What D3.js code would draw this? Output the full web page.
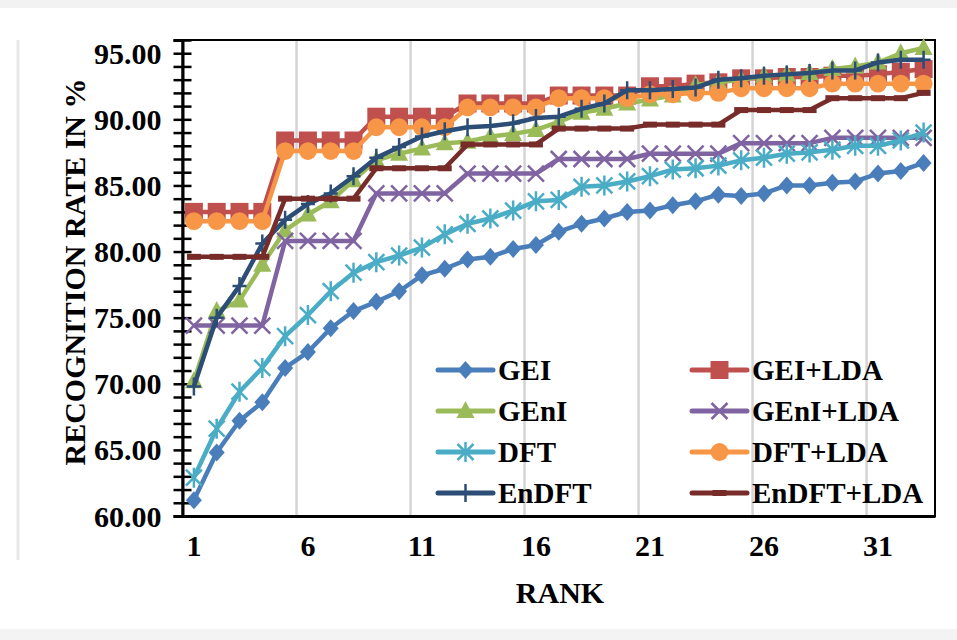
<!DOCTYPE html>
<html>
<head>
<meta charset="utf-8">
<script src="https://cdn.jsdelivr.net/npm/d3@7"></script>
<style>
  html, body { margin: 0; padding: 0; background: #ffffff; }
  svg { display: block; }
  .lbl { font-family: "Liberation Serif", "Times New Roman", serif; font-weight: bold; fill: #000; }
</style>
</head>
<body>
<script>
// DATA
var ranks = [1, 2, 3, 4, 5, 6, 7, 8, 9, 10, 11, 12, 13, 14, 15, 16, 17, 18, 19, 20, 21, 22, 23, 24, 25, 26, 27, 28, 29, 30, 31, 32, 33];
var rankTicks = [1, 6, 11, 16, 21, 26, 31];
var yTicks = [60, 65, 70, 75, 80, 85, 90, 95];

var gei = [61.2, 64.8, 67.2, 68.6, 71.2, 72.4, 74.2, 75.5, 76.2, 77.0, 78.2, 78.7, 79.4, 79.6, 80.2, 80.5, 81.5, 82.1, 82.5, 83.0, 83.1, 83.5, 83.8, 84.3, 84.2, 84.4, 85.0, 85.0, 85.2, 85.3, 85.9, 86.1, 86.7];
var geiLda = [83.0, 83.0, 83.0, 83.0, 88.4, 88.4, 88.4, 88.4, 90.2, 90.2, 90.2, 90.2, 91.2, 91.2, 91.2, 91.2, 91.8, 91.8, 91.8, 91.8, 92.5, 92.5, 92.7, 92.8, 93.1, 93.1, 93.2, 93.2, 93.3, 93.3, 93.4, 93.6, 93.8];
var geni = [70.2, 75.5, 76.3, 79.0, 81.6, 82.8, 83.8, 85.4, 86.9, 87.4, 87.8, 88.2, 88.3, 88.7, 88.9, 89.2, 89.8, 90.5, 90.8, 91.2, 91.5, 91.8, 92.6, 92.8, 93.0, 93.3, 93.4, 93.5, 93.8, 94.0, 94.3, 95.0, 95.4];
var geniLda = [74.4, 74.4, 74.4, 74.4, 80.8, 80.8, 80.8, 80.8, 84.4, 84.4, 84.4, 84.4, 85.9, 85.9, 85.9, 85.9, 87.0, 87.0, 87.0, 87.0, 87.4, 87.4, 87.4, 87.4, 88.2, 88.2, 88.2, 88.2, 88.6, 88.6, 88.6, 88.6, 88.6];
var dft = [62.9, 66.6, 69.4, 71.2, 73.6, 75.2, 77.0, 78.4, 79.2, 79.7, 80.3, 81.3, 82.1, 82.5, 83.1, 83.8, 83.9, 84.9, 85.0, 85.3, 85.7, 86.2, 86.3, 86.5, 86.9, 87.1, 87.4, 87.5, 87.7, 88.0, 88.0, 88.4, 89.0];
var dftLda = [82.3, 82.3, 82.3, 82.3, 87.6, 87.6, 87.6, 87.6, 89.4, 89.4, 89.4, 89.4, 90.9, 90.9, 90.9, 90.9, 91.6, 91.6, 91.6, 91.6, 91.9, 91.9, 92.0, 92.0, 92.35, 92.35, 92.35, 92.35, 92.7, 92.7, 92.7, 92.7, 92.7];
var endft = [69.8, 75.0, 77.4, 80.6, 82.4, 83.6, 84.4, 85.7, 87.1, 87.9, 88.7, 89.1, 89.4, 89.5, 89.7, 90.1, 90.2, 90.8, 91.2, 92.2, 92.2, 92.3, 92.4, 93.0, 93.1, 93.3, 93.4, 93.5, 93.7, 93.7, 94.3, 94.5, 94.5];
var endftLda = [79.6, 79.6, 79.6, 79.6, 84.0, 84.0, 84.0, 84.0, 86.3, 86.3, 86.3, 86.3, 88.1, 88.1, 88.1, 88.1, 89.3, 89.3, 89.3, 89.3, 89.6, 89.6, 89.6, 89.6, 90.7, 90.7, 90.7, 90.7, 91.6, 91.6, 91.6, 91.6, 92.0];

var seriesNames = ["GEI", "GEI+LDA", "GEnI", "GEnI+LDA", "DFT", "DFT+LDA", "EnDFT", "EnDFT+LDA"];
var seriesValues = [gei, geiLda, geni, geniLda, dft, dftLda, endft, endftLda];
var seriesColors = ["#4a7ebb", "#c0504d", "#9bbb59", "#8064a2", "#4bacc6", "#f79646", "#2c4d75", "#772c2a"];
var seriesMarkers = ["diamond", "square", "triangle", "x", "star", "circle", "plus", "dash"];

// SIZES
var W = 957, H = 640;
var margin = { top: 40, right: 22, bottom: 124, left: 182.5 };
var plotW = W - margin.left - margin.right;
var plotH = H - margin.top - margin.bottom;

var svg = d3.select("body").append("svg").attr("width", W).attr("height", H);

// FRAME / SHADOW
svg.append("rect").attr("x", 0).attr("y", 0).attr("width", W).attr("height", 8).attr("fill", "#f2f2f2");
svg.append("rect").attr("x", 0).attr("y", 629).attr("width", W).attr("height", 11).attr("fill", "#f3f3f3");
svg.append("line").attr("x1", 18).attr("x2", 18).attr("y1", 40).attr("y2", 560)
  .attr("stroke", "#e8e8e8").attr("stroke-width", 3);

var x = d3.scaleBand().domain(ranks).range([0, plotW]);
var y = d3.scaleLinear().domain([60, 96]).range([plotH, 0]);

var g = svg.append("g").attr("transform", `translate(${margin.left}, ${margin.top})`);

// GRIDLINES (between categories)
g.selectAll(".grid")
  .data(rankTicks.slice(1))
  .enter()
  .append("line")
  .attr("x1", (d) => x(d))
  .attr("x2", (d) => x(d))
  .attr("y1", 0)
  .attr("y2", plotH)
  .attr("stroke", "#d4d4d4")
  .attr("stroke-width", 2.5);

// PLOT BORDER
g.append("rect").attr("x", 0).attr("y", 0).attr("width", plotW).attr("height", plotH)
  .attr("fill", "none").attr("stroke", "#000").attr("stroke-width", 2);

// Y AXIS
var yAxis = g.append("g")
  .call(d3.axisLeft(y).tickValues(d3.range(60, 97)).tickSize(9).tickFormat(""));
yAxis.select(".domain").attr("stroke-width", 3);
yAxis.selectAll(".tick line").attr("x2", 9).attr("x1", -9).attr("stroke-width", 2.5);

g.selectAll(".ylab")
  .data(yTicks)
  .enter()
  .append("text")
  .attr("class", "lbl")
  .attr("x", -21)
  .attr("y", (d) => y(d))
  .attr("dy", "0.35em")
  .attr("text-anchor", "end")
  .style("font-size", "30px")
  .text((d) => d3.format(".2f")(d));

// X AXIS
var xAxis = g.append("g")
  .attr("transform", `translate(0, ${plotH})`)
  .call(d3.axisBottom(x).tickValues(rankTicks).tickSize(0).tickPadding(19));
xAxis.select(".domain").attr("stroke-width", 3);
xAxis.selectAll("text").attr("class", "lbl").style("font-size", "30px").attr("dy", "0.71em");

// AXIS TITLES
svg.append("text")
  .attr("class", "lbl")
  .attr("x", 560)
  .attr("y", 603)
  .attr("text-anchor", "middle")
  .style("font-size", "30px")
  .text("RANK");

svg.append("text")
  .attr("class", "lbl")
  .attr("transform", "translate(85, 272) rotate(-90)")
  .attr("text-anchor", "middle")
  .style("font-size", "30px")
  .text("RECOGNITION RATE IN %");

// MARKER SHAPES
function markerPath(type) {
  if (type === "diamond") return "M0,-9L8,0L0,9L-8,0Z";
  if (type === "square") return "M-9,-9H9V9H-9Z";
  if (type === "triangle") return "M0,-10L9,7H-9Z";
  if (type === "circle") return d3.symbol().type(d3.symbolCircle).size(250)();
  if (type === "x") return "M-8,-8L8,8M-8,8L8,-8";
  if (type === "star") return "M-8,-8L8,8M-8,8L8,-8M0,-10V10";
  if (type === "plus") return "M0,-9V9M-7,0H7";
  if (type === "dash") return "M-7,0H7";
  return "";
}
function isStroked(type) {
  return type === "x" || type === "star" || type === "plus" || type === "dash";
}

var line = d3.line()
  .x((d, i) => x(ranks[i]) + x.bandwidth() / 2)
  .y((d) => y(d));

// SERIES
seriesValues.forEach(function (vals, s) {
  var color = seriesColors[s];
  var type = seriesMarkers[s];

  g.append("path")
    .attr("d", line(vals))
    .attr("fill", "none")
    .attr("stroke", color)
    .attr("stroke-width", 4.5)
    .attr("stroke-linejoin", "round");

  g.selectAll(".m" + s)
    .data(vals)
    .enter()
    .append("path")
    .attr("transform", (d, i) => `translate(${x(ranks[i]) + x.bandwidth() / 2}, ${y(d)})`)
    .attr("d", markerPath(type))
    .attr("fill", isStroked(type) ? "none" : color)
    .attr("stroke", color)
    .attr("stroke-width", isStroked(type) ? (type === "dash" ? 6 : 2.5) : 0);
});

// LEGEND
var legendCols = [438, 692];
var legendRows = [370, 411, 452, 493];

seriesNames.forEach(function (name, s) {
  var lx = legendCols[s % 2];
  var ly = legendRows[Math.floor(s / 2)];
  var color = seriesColors[s];
  var type = seriesMarkers[s];

  var lg = svg.append("g").attr("transform", `translate(${lx}, ${ly})`);
  lg.append("line")
    .attr("x1", 0).attr("x2", 55)
    .attr("y1", 0).attr("y2", 0)
    .attr("stroke", color)
    .attr("stroke-width", 5)
    .attr("stroke-linecap", "round");
  lg.append("path")
    .attr("transform", "translate(27.5, 0)")
    .attr("d", markerPath(type))
    .attr("fill", isStroked(type) ? "none" : color)
    .attr("stroke", color)
    .attr("stroke-width", isStroked(type) ? (type === "dash" ? 6 : 2.5) : 0);
  lg.append("text")
    .attr("class", "lbl")
    .attr("x", 60)
    .attr("y", 0)
    .attr("dy", "0.35em")
    .style("font-size", "29px")
    .text(name);
});
</script>
</body>
</html>
